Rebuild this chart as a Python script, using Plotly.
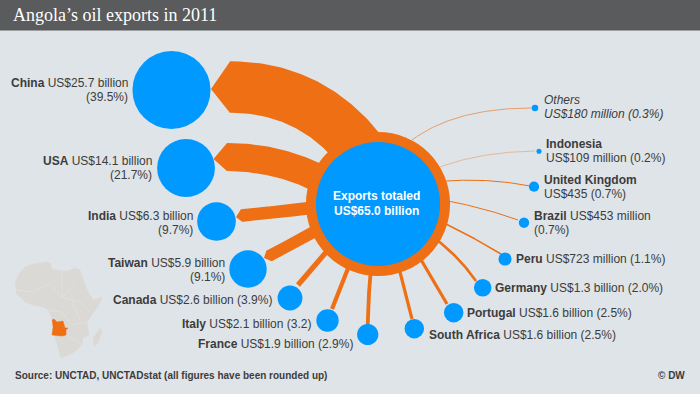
import numpy as np
import plotly.graph_objects as go

# ---- data ----
countries = ["China", "USA", "India", "Taiwan", "Canada", "Italy", "France", "South Africa",
             "Portugal", "Germany", "Peru", "Brazil", "United Kingdom", "Indonesia", "Others"]
exports_bn = [25.7, 14.1, 6.3, 5.9, 2.6, 2.1, 1.9, 1.6, 1.6, 1.3, 0.723, 0.453, 0.435, 0.109, 0.18]
amount_labels = ["US$25.7 billion", "US$14.1 billion", "US$6.3 billion", "US$5.9 billion",
                 "US$2.6 billion", "US$2.1 billion", "US$1.9 billion", "US$1.6 billion",
                 "US$1.6 billion", "US$1.3 billion", "US$723 million", "US$453 million",
                 "US$435", "US$109 million", "US$180 million"]
share_labels = ["(39.5%)", "(21.7%)", "(9.7%)", "(9.1%)", "(3.9%)", "(3.2)", "(2.9%)", "(2.5%)",
                "(2.5%)", "(2.0%)", "(1.1%)", "(0.7%)", "(0.7%)", "(0.2%)", "(0.3%)"]
total_bn = 65.0
title = "Angola’s oil exports in 2011"
source = "Source: UNCTAD, UNCTADstat (all figures have been rounded up)"
credit = "© DW"

# ---- layout (page pixel space) ----
W, H = 700, 394
BG, HEAD, BLUE, ORANGE, INK = "#dfe4e8", "#5a5b5d", "#0099ff", "#ee6f14", "#3c3c3c"
LAND, AREA_SCALE, FLOW_SCALE = "#dbd9d5", 7.7, 2.0
hub = (378, 204)
RING = 10
bubble_xy = {
    "China": (171.5, 90), "USA": (186, 168), "India": (216.5, 221.5), "Taiwan": (248, 269),
    "Canada": (290, 298), "Italy": (327.5, 320.5), "France": (367.7, 334.5),
    "South Africa": (414.3, 328.7), "Portugal": (453.7, 312.7), "Germany": (482.7, 287.7),
    "Peru": (505, 259), "Brazil": (524, 222.7), "United Kingdom": (534, 186.7),
    "Indonesia": (539, 151.3), "Others": (535, 108),
}
# band routes: tip of arrow, start, control, end
wide_routes = {
    "China": ((211, 89), (230, 87), (310, 87), (360, 150)),
    "USA": ((213.5, 159), (227, 157), (285, 157), (335, 187)),
    "India": ((236, 217), (241.5, 215.5), (280, 212), (335, 205)),
    "Taiwan": ((264, 258), (269, 256), (300, 240), (335, 220)),
}
thin_routes = {
    "Canada": ((298, 285), (312, 269), (328, 250)),
    "Italy": ((332, 309), (339, 290), (349, 266)),
    "France": ((367.7, 325), (368, 300), (371, 268)),
    "South Africa": ((412, 319), (406, 295), (399, 268)),
    "Portugal": ((447, 304), (435, 283), (420, 258)),
    "Germany": ((476, 281), (460, 258), (437, 240)),
    "Peru": ((501, 254), (475, 238), (444, 223)),
    "Brazil": ((518, 220), (485, 208), (448, 201)),
    "United Kingdom": ((530, 186), (490, 178), (446, 181)),
    "Indonesia": ((535, 151), (480, 152), (440, 167)),
    "Others": ((532, 108), (455, 108), (412, 140)),
}
# label: (x, y of first line, anchor, lines broken after the name / amount)
label_pos = {
    "China": (129.5, 83, "right", "name amount|share"),
    "USA": (154, 161, "right", "name amount|share"),
    "India": (194.5, 216, "right", "name amount|share"),
    "Taiwan": (227, 263, "right", "name amount|share"),
    "Canada": (274, 300, "right", "name amount share"),
    "Italy": (313, 324, "right", "name amount share"),
    "France": (355, 343.5, "right", "name amount share"),
    "South Africa": (427, 335, "left", "name amount share"),
    "Portugal": (465, 313, "left", "name amount share"),
    "Germany": (493, 288, "left", "name amount share"),
    "Peru": (514, 259, "left", "name amount share"),
    "Brazil": (532, 216, "left", "name amount|share"),
    "United Kingdom": (542, 180, "left", "name|amount share"),
    "Indonesia": (544, 144, "left", "name|amount share"),
    "Others": (542, 100, "left", "name|amount share"),
}
africa_x = [15, 20, 25, 33, 47, 50, 52, 62, 68, 75, 80, 83, 87, 93, 102, 100, 93, 87, 89, 83, 82, 73,
            61, 59, 55, 52, 52, 48, 43, 33, 25, 16]
africa_y = [283, 272, 267, 264, 262, 263, 269, 271, 271, 268, 270, 278, 290, 300, 297, 303, 313, 322,
            335, 338, 345, 353, 358, 350, 337, 328, 318, 310, 307, 305, 302, 293]
madagascar_x = [100, 102, 98, 94, 93]
madagascar_y = [328, 332, 343, 346, 338]
angola_x = [52, 54, 57, 63, 65, 68, 66, 66, 62, 52, 53]
angola_y = [320, 319, 322, 321, 328, 328, 330, 335, 336, 335, 328]
border_lines = [
    ([16, 33, 50], [290, 292, 283]), ([50, 62, 72], [283, 298, 300]), ([62, 62, 75], [271, 298, 283]),
    ([72, 80, 90], [300, 302, 312]), ([48, 62, 72, 87], [310, 312, 325, 322]),
    ([65, 75, 82], [335, 340, 345]), ([72, 80], [300, 320]),
]


def bezier(p0, p1, p2, n=60):
    t = np.linspace(0, 1, n)[:, None]
    a, b, c = map(np.array, (p0, p1, p2))
    return (1 - t) ** 2 * a + 2 * t * (1 - t) * b + t ** 2 * c


def band(tip, p0, p1, p2, width):
    c = bezier(p0, p1, p2)
    d = np.gradient(c, axis=0)
    nrm = np.c_[-d[:, 1], d[:, 0]] / np.linalg.norm(d, axis=1)[:, None]
    up, lo = c + nrm * width / 2, c - nrm * width / 2
    pts = np.vstack([[tip], up, lo[::-1], [tip]])
    return pts[:, 0], pts[:, 1]


value = dict(zip(countries, exports_bn))
fig = go.Figure()

# Africa locator map
fig.add_trace(go.Scatter(x=africa_x, y=africa_y, fill="toself", fillcolor=LAND, mode="lines",
                         line=dict(color=LAND, width=0.5), hoverinfo="skip", showlegend=False))
fig.add_trace(go.Scatter(x=madagascar_x, y=madagascar_y, fill="toself", fillcolor=LAND, mode="lines",
                         line=dict(color=LAND, width=0.5), hoverinfo="skip", showlegend=False))
for bx, by in border_lines:
    fig.add_trace(go.Scatter(x=bx, y=by, mode="lines", line=dict(color="#e4e4e1", width=0.6),
                             hoverinfo="skip", showlegend=False))
fig.add_trace(go.Scatter(x=angola_x, y=angola_y, fill="toself", fillcolor=ORANGE, mode="lines",
                         line=dict(color=ORANGE, width=0.5), hoverinfo="skip", showlegend=False))

# flows
for name, r in wide_routes.items():
    bx, by = band(*r, value[name] * FLOW_SCALE)
    fig.add_trace(go.Scatter(x=bx, y=by, fill="toself", fillcolor=ORANGE, mode="lines",
                             line=dict(color=ORANGE, width=0), hoverinfo="skip", showlegend=False))
for name, r in thin_routes.items():
    c = bezier(*r)
    v = value[name]
    fig.add_trace(go.Scatter(x=c[:, 0], y=c[:, 1], mode="lines", opacity=min(1, 3.3 * v),
                             line=dict(color=ORANGE, width=max(1.0, v * FLOW_SCALE)),
                             hoverinfo="skip", showlegend=False))

# hub and bubbles: diameter follows the square root of the value
hub_d = 2 * AREA_SCALE * np.sqrt(total_bn)
fig.add_trace(go.Scatter(x=[hub[0]], y=[hub[1]], mode="markers",
                         marker=dict(size=hub_d + 2 * RING, color=ORANGE, opacity=1, line=dict(width=0)),
                         hoverinfo="skip", showlegend=False))
fig.add_trace(go.Scatter(x=[hub[0]], y=[hub[1]], mode="markers",
                         marker=dict(size=hub_d, color=BLUE, opacity=1, line=dict(width=0)),
                         hoverinfo="skip", showlegend=False))
fig.add_trace(go.Scatter(x=[bubble_xy[c][0] for c in countries], y=[bubble_xy[c][1] for c in countries],
                         mode="markers", text=countries,
                         marker=dict(size=[2 * AREA_SCALE * np.sqrt(v) for v in exports_bn],
                                     color=BLUE, opacity=1, line=dict(width=0)),
                         customdata=exports_bn, hovertemplate="%{text}: %{customdata} bn<extra></extra>",
                         showlegend=False))

ann = []


def label(x, y, text, anchor="left", **font):
    f = dict(family="Liberation Sans, Arial, sans-serif", size=12, color=INK)
    f.update(font)
    ann.append(dict(x=x, y=y, xref="x", yref="y", text=text, showarrow=False, xanchor=anchor,
                    yanchor="middle", align=anchor, font=f))


for name, amt, sh in zip(countries, amount_labels, share_labels):
    x, y, anchor, fmt = label_pos[name]
    is_other = name == "Others"
    nm = f"<i>{name}</i>" if is_other else f"<b>{name}</b>"
    am = f"<i>{amt}</i>" if is_other else amt
    s_ = f"<i>{sh}</i>" if is_other else sh
    for i, line in enumerate(fmt.split("|")):
        txt = line.replace("name", nm).replace("amount", am).replace("share", s_)
        label(x, y + 14 * i, txt, anchor)

label(hub[0] - 1.5, 196, "<b>Exports totaled</b>", "center", color="white")
label(hub[0] - 1.5, 211, f"<b>US${total_bn:.1f} billion</b>", "center", color="white")
label(11, 15, title, "left", family="Liberation Serif, Georgia, serif", size=18, color="white")
label(13, 375, f"<b>{source}</b>", "left", size=10)
label(687, 375, f"<b>{credit}</b>", "right", size=10)

fig.update_layout(
    width=W, height=H, autosize=False, margin=dict(l=0, r=0, t=0, b=0),
    paper_bgcolor=BG, plot_bgcolor=BG, showlegend=False, annotations=ann,
    xaxis=dict(range=[0, W], visible=False, fixedrange=True),
    yaxis=dict(range=[H, 0], visible=False, fixedrange=True),
    shapes=[dict(type="rect", xref="x", yref="y", x0=0, x1=W, y0=0, y1=30.5,
                 fillcolor=HEAD, line=dict(width=0), layer="below")],
)
fig.write_html("out.html", config={"displayModeBar": False},
               post_script="document.body.style.margin='0';document.body.style.overflow='hidden';")
